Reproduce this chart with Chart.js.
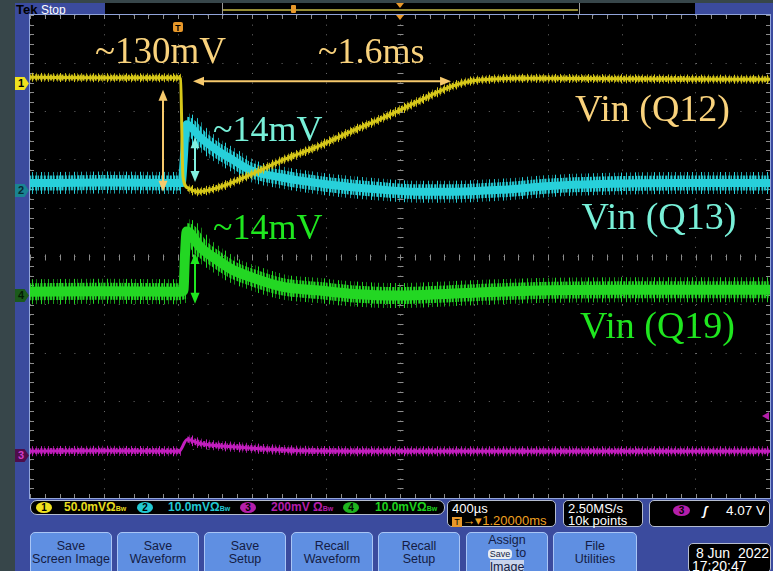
<!DOCTYPE html><html lang="en">
<head>
<meta charset="utf-8"/>
<title>Tek capture – Vin (Q12 / Q13 / Q19)</title>
<script src="https://cdn.jsdelivr.net/npm/chart.js"></script>
<style>
  body{margin:0;width:773px;height:571px;background:#37464a;position:relative;overflow:hidden;font-family:"Liberation Sans",sans-serif}
  .a{position:absolute}
  #panel{left:15px;top:3px;width:758px;height:568px;background:#3b4b9e}
  #plotbox{left:29px;top:14px;width:740px;height:483px;border:1px solid #91a4da;background:#000}
  #plotbox canvas{display:block}
  .mk{width:14px;height:13px;left:15px;font:bold 11px "Liberation Sans",sans-serif;line-height:13px;padding-left:3px;box-sizing:border-box;
      clip-path:polygon(0 0,68% 0,100% 50%,68% 100%,0 100%)}
  .bar{background:#000;border:1px solid #b4bccf;border-radius:7px;box-sizing:border-box}
  .badge{width:16px;height:11px;border-radius:50%;font:bold 10px "Liberation Sans",sans-serif;line-height:11px;text-align:center;color:#000}
  .ib{font:bold 12px "Liberation Sans",sans-serif;line-height:13px;white-space:pre}
  .bx{background:#000;border:1px solid #b4bccf;border-radius:5px;box-sizing:border-box;color:#fff;font:13px "Liberation Sans",sans-serif;line-height:12px;padding:2px 0 0 4px;white-space:pre}
  .btn{top:532px;width:82px;height:45px;background:#5f8fe2;border:1px solid #a9c5f5;border-radius:5px 5px 0 0;box-sizing:border-box;
       color:#141c44;font:12.5px "Liberation Sans",sans-serif;line-height:13px;text-align:center;padding-top:7px}
</style>
</head>
<body>
<div id="panel" class="a"></div>
<!-- top status strip -->
<div class="a" style="left:16px;top:2px;font:bold 13px 'Liberation Sans',sans-serif;color:#000">Tek</div>
<div class="a" style="left:41px;top:3px;font:12px 'Liberation Sans',sans-serif;color:#fff">Stop</div>
<div class="a" style="left:105px;top:3px;width:590px;height:12px;background:#000"></div>
<div class="a" style="left:222px;top:3px;width:356px;height:12px;border-left:1px solid #9a9a9a;border-right:1px solid #9a9a9a"></div>
<div class="a" style="left:223px;top:9px;width:355px;height:2px;background:#958c35"></div>
<div class="a" style="left:291px;top:5px;width:5px;height:8px;background:#e8982a;border-radius:1px"></div>
<div class="a" style="left:396px;top:3px;width:0;height:0;border-left:4px solid transparent;border-right:4px solid transparent;border-top:5px solid #e8982a"></div>

<div id="plotbox" class="a"><canvas id="scope" width="740" height="483"></canvas></div>

<!-- channel ground markers -->
<div class="a mk" style="top:77px;background:#f0e21e;color:#000">1</div>
<div class="a mk" style="top:184px;background:#1a8492;color:#062a30">2</div>
<div class="a mk" style="top:289px;background:#1b5a1b;color:#031a03">4</div>
<div class="a mk" style="top:449px;background:#4f0c4a;color:#d23cc8">3</div>

<!-- vertical settings bar -->
<div class="a bar" style="left:30px;top:500px;width:415px;height:15px"></div>
<div class="a badge" style="left:36px;top:502px;background:#f0e21e">1</div>
<div class="a ib" style="left:64px;top:501px;color:#e6dc1e">50.0mVΩ<span style="font-size:7px">Bw</span></div>
<div class="a badge" style="left:137px;top:502px;background:#22c8d2">2</div>
<div class="a ib" style="left:168px;top:501px;color:#22c8d2">10.0mVΩ<span style="font-size:7px">Bw</span></div>
<div class="a badge" style="left:240px;top:502px;background:#b41eaa">3</div>
<div class="a ib" style="left:271px;top:501px;color:#b41eaa">200mV Ω<span style="font-size:7px">Bw</span></div>
<div class="a badge" style="left:343px;top:502px;background:#1eb41e">4</div>
<div class="a ib" style="left:375px;top:501px;color:#1ed21e">10.0mVΩ<span style="font-size:7px">Bw</span></div>

<div class="a bx" style="left:447px;top:500px;width:109px;height:27px">400µs
<span style="color:#f0a020"><span style="background:#e8982a;color:#000;font-size:9px"> T </span>→▾1.20000ms</span></div>
<div class="a bx" style="left:563px;top:500px;width:80px;height:27px">2.50MS/s
10k points</div>
<div class="a bx" style="left:649px;top:500px;width:121px;height:27px"></div>
<div class="a badge" style="left:673px;top:505px;background:#b41eaa;width:17px">3</div>
<div class="a" style="left:703px;top:503px;color:#fff;font:italic bold 13px 'Liberation Sans',sans-serif">ʃ</div>
<div class="a" style="left:726px;top:503px;color:#fff;font:13.5px 'Liberation Sans',sans-serif">4.07 V</div>

<!-- soft keys -->
<div class="a btn" style="left:30px">Save<br>Screen Image</div>
<div class="a btn" style="left:117px">Save<br>Waveform</div>
<div class="a btn" style="left:204px">Save<br>Setup</div>
<div class="a btn" style="left:291px">Recall<br>Waveform</div>
<div class="a btn" style="left:378px">Recall<br>Setup</div>
<div class="a btn" style="left:466px;padding-top:1px">Assign<br><span style="background:#e8ecf4;border-radius:4px;font-size:9px;padding:0 2px">Save</span> to<br><span style="background:#c8d4ec">Image</span></div>
<div class="a btn" style="left:553px;width:84px">File<br>Utilities</div>
<div class="a bx" style="left:688px;top:543px;width:83px;height:30px;font-size:14px;line-height:13px;padding:3px 0 0 3px"> 8 Jun  2022
17:20:47</div>

<script>
// waveforms: time in ms (trigger = 0), amplitude in screen divisions
const ch1T = [-0.8, -0.4, 0, 0.0135, 0.027, 0.054, 0.103, 0.211, 0.389, 0.568, 0.751, 0.93, 1.108, 1.292, 1.47, 1.578, 1.686, 1.85, 2.4, 3.2];
const ch1V = [3.71, 3.70, 3.70, 3.68, 1.65, 1.42, 1.34, 1.42, 1.69, 2.00, 2.27, 2.58, 2.87, 3.20, 3.51, 3.63, 3.67, 3.69, 3.68, 3.67];

const ch2T = [-0.8, -0.4, 0, 0.02, 0.03, 0.04, 0.047, 0.07, 0.119, 0.211, 0.297, 0.389, 0.568, 0.751, 0.93, 1.108, 1.292, 1.47, 1.741, 2.011, 2.281, 2.7, 3.2];
const ch2V = [1.52, 1.53, 1.52, 1.52, 1.95, 2.60, 2.74, 2.68, 2.47, 2.20, 2.00, 1.79, 1.63, 1.52, 1.44, 1.38, 1.34, 1.34, 1.38, 1.46, 1.50, 1.52, 1.52];

const ch4T = [-0.8, -0.4, 0, 0.029, 0.038, 0.047, 0.06, 0.119, 0.211, 0.297, 0.389, 0.568, 0.751, 0.93, 1.2, 1.47, 1.9, 2.4, 3.2];
const ch4V = [-0.73, -0.72, -0.73, -0.71, 0.05, 0.52, 0.50, 0.20, -0.07, -0.28, -0.42, -0.63, -0.70, -0.77, -0.81, -0.77, -0.71, -0.69, -0.69];

const ch3T = [-0.8, -0.4, 0, 0.011, 0.049, 0.119, 0.297, 0.481, 0.659, 1.2, 2.0, 3.2];
const ch3V = [-4.03, -4.02, -4.03, -4.02, -3.79, -3.87, -3.94, -3.99, -4.02, -4.03, -4.03, -4.03];

// screen graticule: 10 x 10 divisions, 400 µs/div
const tMin = -0.8, tMax = 3.2, tDiv = 0.4;
const vMin = -5, vMax = 5;

// hand-drawn notes on the capture (data units)
const notes = [
  {text: '~130mV',    t: -0.449, v: 4.01,  color: '#f9d27c', size: 37},
  {text: '~1.6ms',    t: 0.757,  v: 4.01,  color: '#f9d27c', size: 36},
  {text: 'Vin (Q12)', t: 2.146,  v: 2.81,  color: '#f9d27c', size: 38},
  {text: '~14mV',     t: 0.189,  v: 2.39,  color: '#78f0d8', size: 36},
  {text: 'Vin (Q13)', t: 2.181,  v: 0.56,  color: '#78f0d8', size: 38},
  {text: '~14mV',     t: 0.189,  v: 0.36,  color: '#1fe61f', size: 36},
  {text: 'Vin (Q19)', t: 2.173,  v: -1.69, color: '#1fe61f', size: 38}
];
const arrows = [
  {t1: -0.081, v1: 3.45, t2: -0.081, v2: 1.34, color: '#f6c96c'},
  {t1: 0.081,  v1: 3.63, t2: 1.476,  v2: 3.63, color: '#f6c96c'},
  {t1: 0.092,  v1: 2.47, t2: 0.092,  v2: 1.54, color: '#80f0e0'},
  {t1: 0.092,  v1: 0.07, t2: 0.092,  v2: -0.98, color: '#1fe61f'}
];

// streak textures give the traces their sampled-noise look
const sparse = [0, 0, .9, 0, 0, 0, .6, 0, 0, 0, 0, 1, 0, 0, .5, 0, 0, 0, .8, 0, 0, 0, 0, .7, 0, 0, 0, .4, 0, 0, 1, 0, 0];
const dense  = [.9, .3, 1, .6, 0, .8, 1, .4, .9, 0, .7, 1, .5, .2, 1, .8, 0, .6, 1, .3, .9];
function streaks(color, alphas){
  const c = document.createElement('canvas');
  c.width = alphas.length; c.height = 1;
  const g = c.getContext('2d');
  g.fillStyle = color;
  alphas.forEach((a, i) => { g.globalAlpha = a; g.fillRect(i, 0, 1, 1); });
  return g.createPattern(c, 'repeat');
}
// the noise texture only makes sense on flat-ish stretches, not on the fast edges
const steep = ctx => Math.abs(ctx.p1.y - ctx.p0.y) > 1.5 * Math.abs(ctx.p1.x - ctx.p0.x);
const noEdge = {borderColor: ctx => steep(ctx) ? 'rgba(0,0,0,0)' : undefined};

const pts = (T, V) => T.map((t, i) => ({x: t, y: V[i]}));
function trace(T, V, color, widths, order){
  return [
    {data: pts(T, V), borderColor: streaks(color, sparse), borderWidth: widths[0], order: order + 0.6, segment: noEdge},
    {data: pts(T, V), borderColor: streaks(color, dense),  borderWidth: widths[1], order: order + 0.3, segment: noEdge},
    {data: pts(T, V), borderColor: color, borderWidth: widths[2], order: order}
  ];
}

function drawArrow(ctx, x1, y1, x2, y2, color){
  const ang = Math.atan2(y2 - y1, x2 - x1), L = 11, W = 4.5;
  const c = Math.cos(ang), s = Math.sin(ang);
  ctx.strokeStyle = color; ctx.fillStyle = color; ctx.lineWidth = 2;
  ctx.beginPath(); ctx.moveTo(x1 + c * L * 0.7, y1 + s * L * 0.7); ctx.lineTo(x2 - c * L * 0.7, y2 - s * L * 0.7); ctx.stroke();
  [[x2, y2, 1], [x1, y1, -1]].forEach(([px, py, d]) => {
    ctx.beginPath();
    ctx.moveTo(px, py);
    ctx.lineTo(px - d * c * L - s * W, py - d * s * L + c * W);
    ctx.lineTo(px - d * c * L + s * W, py - d * s * L - c * W);
    ctx.closePath(); ctx.fill();
  });
}

const graticule = {
  id: 'graticule',
  beforeDatasetsDraw(chart){
    const {ctx, chartArea: a, scales: {x, y}} = chart;
    const cx = Math.round(x.getPixelForValue((tMin + tMax) / 2)) + 0.5;
    const cy = Math.round(y.getPixelForValue(0)) + 0.5;
    ctx.save();
    ctx.strokeStyle = '#8c8c8c'; ctx.lineWidth = 1;
    ctx.beginPath();
    for (let i = 0; i <= 50; i++){
      const px = Math.round(x.getPixelForValue(tMin + i * tDiv / 5)) + 0.5;
      ctx.moveTo(px, cy - 3); ctx.lineTo(px, cy + 3);
      ctx.moveTo(px, a.top); ctx.lineTo(px, a.top + 4);
      ctx.moveTo(px, a.bottom); ctx.lineTo(px, a.bottom - 4);
      const py = Math.round(y.getPixelForValue(vMin + i * 0.2)) + 0.5;
      ctx.moveTo(cx - 3, py); ctx.lineTo(cx + 3, py);
      ctx.moveTo(a.left, py); ctx.lineTo(a.left + 4, py);
      ctx.moveTo(a.right, py); ctx.lineTo(a.right - 4, py);
    }
    ctx.stroke();
    ctx.restore();
  },
  afterDatasetsDraw(chart){
    const {ctx, scales: {x, y}, chartArea: a} = chart;
    ctx.save();
    arrows.forEach(r => drawArrow(ctx, x.getPixelForValue(r.t1), y.getPixelForValue(r.v1),
                                       x.getPixelForValue(r.t2), y.getPixelForValue(r.v2), r.color));
    ctx.textBaseline = 'alphabetic';
    notes.forEach(n => {
      ctx.font = n.size + 'px "Liberation Serif", serif';
      ctx.fillStyle = n.color;
      ctx.fillText(n.text, x.getPixelForValue(n.t), y.getPixelForValue(n.v));
    });
    // trigger position marker
    const tx = x.getPixelForValue(0);
    ctx.fillStyle = '#e8982a';
    ctx.beginPath(); ctx.roundRect(tx - 5, a.top + 7, 10, 10, 2); ctx.fill();
    ctx.fillStyle = '#000'; ctx.font = 'bold 9px "Liberation Sans"'; ctx.textAlign = 'center';
    ctx.fillText('T', tx, a.top + 15.5);
    // expansion point at screen centre
    const mx = x.getPixelForValue((tMin + tMax) / 2);
    ctx.fillStyle = '#e8982a';
    ctx.beginPath(); ctx.moveTo(mx - 4, a.top); ctx.lineTo(mx + 4, a.top); ctx.lineTo(mx, a.top + 5); ctx.fill();
    // ch3 trigger level
    const ly = y.getPixelForValue(-3.30);
    ctx.fillStyle = '#b41eaa';
    ctx.beginPath(); ctx.moveTo(a.right - 8, ly); ctx.lineTo(a.right - 1, ly - 4); ctx.lineTo(a.right - 1, ly + 4); ctx.fill();
    ctx.restore();
  }
};

new Chart(document.getElementById('scope'), {
  type: 'line',
  data: {
    datasets: [
      ...trace(ch1T, ch1V, '#d7c819', [9, 6, 3], 1),
      ...trace(ch2T, ch2V, '#27d0da', [22, 15, 8], 4),
      ...trace(ch4T, ch4V, '#23d723', [25, 17, 10], 7),
      ...trace(ch3T, ch3V, '#c31ebe', [10, 6, 3], 10)
    ]
  },
  options: {
    responsive: false,
    animation: false,
    layout: {padding: 0},
    elements: {point: {radius: 0}, line: {cubicInterpolationMode: 'monotone', borderCapStyle: 'butt'}},
    plugins: {legend: {display: false}, tooltip: {enabled: false}},
    scales: {
      x: {type: 'linear', min: tMin, max: tMax,
          ticks: {display: false, stepSize: tDiv},
          grid: {color: c => Math.abs(c.tick.value - 1.2) < 1e-6 ? '#a0a0a0' : '#6c6c6c', drawTicks: false},
          border: {display: false, dash: [1, 8.66]}},
      y: {min: vMin, max: vMax,
          ticks: {display: false, stepSize: 1},
          grid: {color: c => c.tick.value === 0 ? '#a0a0a0' : '#6c6c6c', drawTicks: false},
          border: {display: false, dash: [1, 13.8]}}
    }
  },
  plugins: [graticule]
});
</script>
</body>
</html>
